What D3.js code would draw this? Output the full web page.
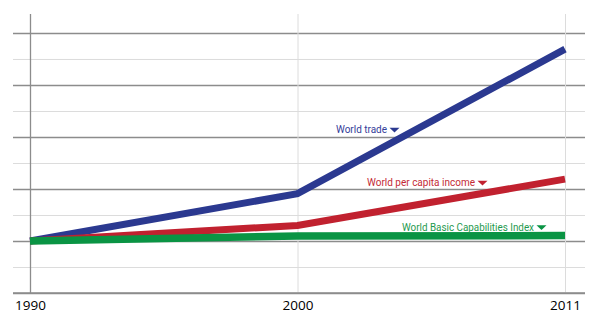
<!DOCTYPE html>
<html><head><meta charset="utf-8">
<script src="https://cdn.jsdelivr.net/npm/d3@7"></script>
<style>html,body{margin:0;padding:0;background:#fff;overflow:hidden}</style>
</head><body><svg id="c" width="596" height="324"></svg>
<script>
// ---- data ----
const years = ["1990", "2000", "2011"];
const worldTrade = [0, 1.82, 7.38];
const worldIncome = [0, 0.6, 2.38];
const worldBCI = [0, 0.19, 0.21];
const gridValues = [-2, -1, 0, 1, 2, 3, 4, 5, 6, 7, 8];
const seriesNames = ["World trade", "World per capita income", "World Basic Capabilities Index"];

// ---- layout ----
const svg = d3.select("#c");
const gridLeft = 13, gridRight = 585, plotTop = 14, plotBottom = 293;
const x = d3.scalePoint().domain(years).range([30, 565]);
const y = d3.scaleLinear().domain([-2, 8.73]).range([plotBottom, plotTop]);

const dark = "#8c8c8c", light = "#dcdcdc";

// horizontal grid
const gy = svg.append("g").attr("transform", `translate(${gridLeft},0)`)
  .call(d3.axisRight(y).tickValues(gridValues).tickSize(gridRight - gridLeft).tickFormat(""));
gy.select(".domain").remove();
gy.selectAll(".tick line")
  .attr("stroke", d => (d % 2 === 0 ? dark : light))
  .attr("stroke-width", d => (d % 2 === 0 ? 1.3 : 1));

// vertical lines + year labels
const gx = svg.append("g").attr("transform", `translate(0,${plotBottom})`)
  .call(d3.axisBottom(x).tickSize(-(plotBottom - plotTop)).tickPadding(7.5));
gx.select(".domain").remove();
gx.selectAll(".tick line")
  .attr("stroke", (d, i) => (i === 0 ? dark : light))
  .attr("stroke-width", (d, i) => (i === 0 ? 1.3 : 1));
gx.selectAll(".tick text")
  .attr("fill", "#000")
  .style("font-family", "'Open Sans', sans-serif")
  .style("font-size", "13.5px");

// redraw bottom baseline on top of vertical lines
svg.append("line").attr("x1", gridLeft).attr("x2", gridRight)
  .attr("y1", y(-2)).attr("y2", y(-2)).attr("stroke", dark).attr("stroke-width", 1.3);

// series lines
const series = [
  { name: seriesNames[0], values: worldTrade, color: "#2b3990", width: 7 },
  { name: seriesNames[1], values: worldIncome, color: "#c1212f", width: 7 },
  { name: seriesNames[2], values: worldBCI, color: "#0a9444", width: 7.5 }
];
const line = d3.line().x((d, i) => x(years[i])).y(d => y(d));
svg.append("g").selectAll("path").data(series).join("path")
  .attr("d", d => line(d.values))
  .attr("fill", "none")
  .attr("stroke", d => d.color)
  .attr("stroke-width", d => d.width)
  .attr("stroke-linejoin", "miter")
  .attr("stroke-linecap", "butt");

// labels with down triangles
const labelPos = [
  { x: 336, y: 133, w: 51, color: "#34409a" },
  { x: 367, y: 186, w: 108, color: "#c42a36" },
  { x: 402, y: 230.5, w: 132, color: "#1f9a4f" }
];
const lg = svg.append("g");
series.forEach((s, i) => {
  const p = labelPos[i];
  lg.append("text")
    .attr("x", p.x).attr("y", p.y)
    .attr("fill", p.color)
    .attr("textLength", p.w)
    .attr("lengthAdjust", "spacingAndGlyphs")
    .style("font-family", "Roboto, sans-serif")
    .style("font-size", "11.5px")
    .text(s.name);
  const tx = p.x + p.w + 2.5;
  lg.append("path")
    .attr("d", `M${tx},${p.y - 5.3}L${tx + 10},${p.y - 5.3}L${tx + 5},${p.y - 0.6}Z`)
    .attr("fill", s.color);
});
</script></body></html>
